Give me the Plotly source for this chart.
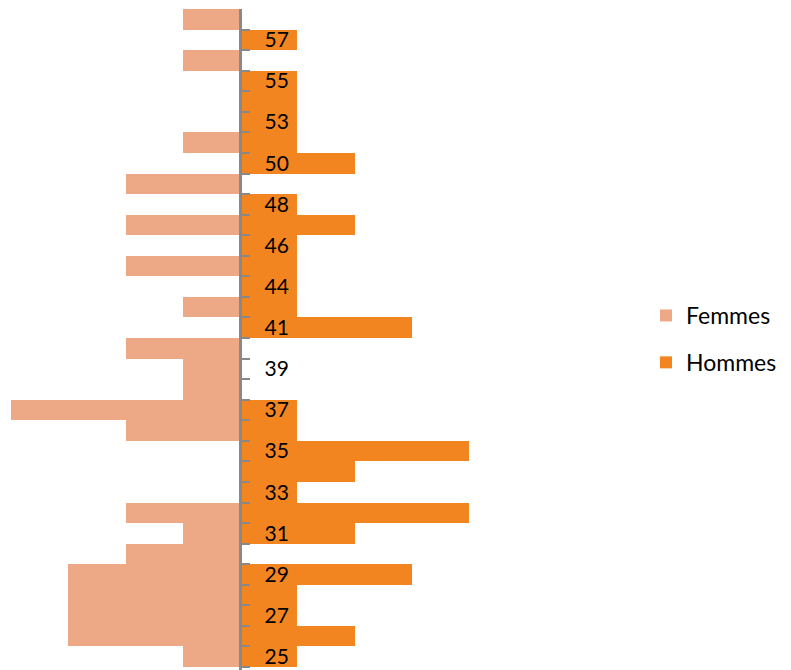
import plotly.graph_objects as go

ages = [25, 26, 27, 28, 29, 30, 31, 32, 33, 34, 35, 36, 37, 38, 39, 40, 41, 43,
        44, 45, 46, 47, 48, 49, 50, 52, 53, 54, 55, 56, 57, 58]
femmes = [1, 3, 3, 3, 3, 2, 1, 2, 0, 0, 0, 2, 4, 1, 1, 2, 0, 1,
          0, 2, 0, 2, 0, 2, 0, 1, 0, 0, 0, 1, 0, 1]
hommes = [1, 2, 1, 1, 3, 0, 2, 4, 1, 2, 4, 1, 1, 0, 0, 0, 3, 1,
          1, 1, 1, 2, 1, 0, 2, 1, 1, 1, 1, 0, 1, 0]

cats = [str(a) for a in ages]
tick_text = [c if i % 2 == 0 else "" for i, c in enumerate(cats)]

W, H = 791, 670
row = 658 / len(cats)          # pixel height of one category row
extra = 3 / row                # small padding below the bottom row

fig = go.Figure()
fig.add_trace(go.Bar(y=cats, x=[-v for v in femmes], orientation="h", name="Femmes",
                     marker=dict(color="#EDA886", line=dict(width=0)), legendgroup="f"))
fig.add_trace(go.Bar(y=cats, x=hommes, orientation="h", name="Hommes",
                     marker=dict(color="#F2851F", line=dict(width=0)), legendgroup="h"))

fig.update_layout(
    width=W, height=H,
    margin=dict(l=0, r=0, t=0, b=0),
    paper_bgcolor="white", plot_bgcolor="white",
    barmode="overlay", bargap=0,
    font=dict(family="Lato, sans-serif", color="black", size=21),
    xaxis=dict(range=[-4, 4], domain=[11 / W, 469 / W], showticklabels=False,
               showgrid=False, zeroline=False, showline=False, fixedrange=True),
    yaxis=dict(type="category", categoryorder="array", categoryarray=cats,
               range=[-0.5 - extra, len(cats) - 0.5],
               domain=[0, 1 - 9 / H], anchor="free", position=240 / W,
               showline=True, linecolor="#898989", linewidth=2.5,
               ticks="inside", ticklen=8, tickcolor="#898989", tickwidth=2,
               tickson="boundaries", tickvals=cats, ticktext=tick_text,
               ticklabelposition="inside", ticklabelstandoff=16,
               showgrid=False, zeroline=False,
               tickfont=dict(size=21, color="black")),
    legend=dict(x=646 / W, y=1 - 294 / H, xanchor="left", yanchor="top",
                traceorder="grouped", tracegroupgap=14,
                font=dict(size=23, color="black"), bgcolor="rgba(0,0,0,0)"),
    showlegend=True,
)

fig.write_html("out.html")
